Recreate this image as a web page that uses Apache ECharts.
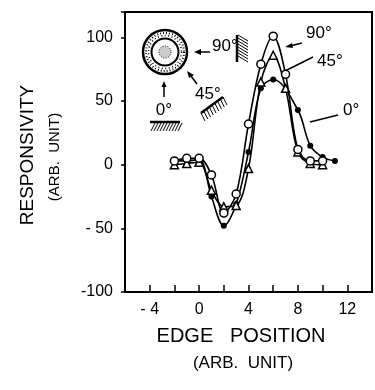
<!DOCTYPE html>
<html>
<head>
<meta charset="utf-8">
<script src="https://cdn.jsdelivr.net/npm/echarts@6.0.0/dist/echarts.min.js"></script>
<style>
  html, body { margin: 0; padding: 0; background: #fff; }
  #chart { width: 375px; height: 390px; }
</style>
</head>
<body>
<div id="chart"></div>
<script>
// edge position (arb. unit) for each curve
const pos90 = [-2, -1, 0, 1, 2, 3, 4, 5, 6, 7, 8, 9, 10];
const pos45 = [-2, -1, 0, 1, 2, 3, 4, 5, 6, 7, 8, 9, 10];
const pos0 = [-2, -1, 0, 1, 2, 3, 4, 5, 6, 8, 9, 10, 11];

// responsivity (arb. unit)
const resp90 = [3, 5, 5, -8, -38, -23, 32, 79, 101, 71, 12, 3, 3];
const resp45 = [0, 1, 2, -20, -33, -32, -3, 65, 86, 60, 10, 1, 0];
const resp0 = [3, 3, 4, -25, -48, -31, 10, 60, 67, 43, 15, 6, 3];

const xTickLabels = { "-4": "- 4", "0": "0", "4": "4", "8": "8", "12": "12" };
const yTickLabels = { "-100": "-100", "-50": "- 50", "0": "0", "50": "50", "100": "100" };

const FONT = "Liberation Sans";

const pairs = (xs, ys) => xs.map((x, i) => [x, ys[i]]);

const chart = echarts.init(document.getElementById("chart"));

// small helpers for the inset sketch
const seg = (x1, y1, x2, y2, w) => ({
  type: "line",
  shape: { x1, y1, x2, y2 },
  style: { stroke: "#000", lineWidth: w || 1.5 },
});
const head = (pts) => ({
  type: "polygon",
  shape: { points: pts },
  style: { fill: "#000" },
});
const txt = (x, y, s, size, align) => ({
  type: "text",
  x,
  y,
  style: {
    text: s,
    fontFamily: FONT,
    fontSize: size || 17,
    fill: "#000",
    align: align || "left",
    verticalAlign: "middle",
  },
});

const hatch = [];
// 90 deg wall
hatch.push(seg(237, 35, 237, 62, 2.5));
for (let y = 35; y <= 56; y += 3) hatch.push(seg(238, y, 248, y + 6, 1));
// 0 deg floor
hatch.push(seg(150, 122, 180, 122, 2.5));
for (let x = 151; x <= 178; x += 3) hatch.push(seg(x + 4, 123, x, 131, 1));
// 45 deg slope
hatch.push(seg(201, 113, 223, 97, 2.5));
for (let t = 0; t <= 1.001; t += 0.125) {
  const px = 201 + 22 * t, py = 113 - 16 * t;
  hatch.push(seg(px, py, px + 4, py + 8, 1));
}

const option = {
  animation: false,
  grid: {
    left: 125,
    right: -4,
    top: 12,
    bottom: 98,
    show: true,
    borderColor: "#000",
    borderWidth: 2,
  },
  xAxis: {
    type: "value",
    min: -6,
    max: 14,
    interval: 2,
    splitLine: { show: false },
    axisLine: { onZero: false, lineStyle: { color: "#000", width: 2 } },
    axisTick: { inside: true, length: 7, lineStyle: { color: "#000", width: 1.5 } },
    axisLabel: {
      margin: 10,
      color: "#000",
      fontFamily: FONT,
      fontSize: 16,
      formatter: (v) => xTickLabels[String(v)] || "",
    },
  },
  yAxis: {
    type: "value",
    min: -100,
    max: 120,
    interval: 50,
    splitLine: { show: false },
    axisLine: { onZero: false, lineStyle: { color: "#000", width: 2 } },
    axisTick: { length: 4, lineStyle: { color: "#000", width: 1.5 } },
    axisLabel: {
      margin: 12,
      color: "#000",
      fontFamily: FONT,
      fontSize: 16,
      formatter: (v) => yTickLabels[String(v)] || "",
    },
  },
  series: [
    {
      name: "0°",
      type: "line",
      data: pairs(pos0, resp0),
      smooth: 0.35,
      symbol: "circle",
      symbolSize: 6,
      itemStyle: { color: "#000" },
      lineStyle: { color: "#000", width: 1.6 },
      z: 2,
    },
    {
      name: "45°",
      type: "line",
      data: pairs(pos45, resp45),
      smooth: 0.35,
      symbol: "triangle",
      symbolSize: 8,
      showAllSymbol: true,
      itemStyle: { color: "#fff", borderColor: "#000", borderWidth: 1.5 },
      lineStyle: { color: "#000", width: 1.6 },
      z: 3,
    },
    {
      name: "90°",
      type: "line",
      data: pairs(pos90, resp90),
      smooth: 0.35,
      symbol: "circle",
      symbolSize: 8,
      showAllSymbol: true,
      itemStyle: { color: "#fff", borderColor: "#000", borderWidth: 1.5 },
      lineStyle: { color: "#000", width: 1.6 },
      z: 4,
    },
  ],
  graphic: [
    // axis titles
    {
      type: "text",
      x: 28,
      y: 155,
      rotation: Math.PI / 2,
      style: {
        text: "RESPONSIVITY",
        fontFamily: FONT,
        fontSize: 19,
        fill: "#000",
        align: "center",
        verticalAlign: "middle",
      },
    },
    {
      type: "text",
      x: 55,
      y: 157,
      rotation: Math.PI / 2,
      style: {
        text: "(ARB.  UNIT)",
        fontFamily: FONT,
        fontSize: 15,
        fill: "#000",
        align: "center",
        verticalAlign: "middle",
      },
    },
    txt(241, 336, "EDGE   POSITION", 20, "center"),
    txt(243, 363, "(ARB.  UNIT)", 17, "center"),

    // curve labels with leaders
    txt(306, 33, "90°"),
    seg(302, 43, 290, 46),
    head([[285, 47], [292, 43], [293, 48]]),
    txt(317, 61, "45°"),
    seg(313, 57, 283, 72),
    txt(343, 110, "0°"),
    seg(338, 115, 310, 122),

    // inset: sensor sketch
    { type: "circle", shape: { cx: 165, cy: 52, r: 22 }, style: { fill: "#fff", stroke: "#000", lineWidth: 2.5 } },
    { type: "circle", shape: { cx: 165, cy: 52, r: 19 }, style: { fill: "none", stroke: "#000", lineWidth: 2, lineDash: [1, 2] } },
    { type: "circle", shape: { cx: 165, cy: 52, r: 16.5 }, style: { fill: "none", stroke: "#000", lineWidth: 1.5, lineDash: [1, 2.5] } },
    { type: "circle", shape: { cx: 165, cy: 52, r: 13.5 }, style: { fill: "#fff", stroke: "#000", lineWidth: 2 } },
    { type: "circle", shape: { cx: 165, cy: 52, r: 6 }, style: { fill: "#ccc", stroke: "#000", lineWidth: 1, lineDash: [1, 1.5] } },

    txt(212, 46, "90°"),
    seg(200, 52, 210, 52),
    head([[194, 52], [201, 49], [201, 55]]),
    txt(195, 94, "45°"),
    seg(197, 84, 191, 76),
    head([[187, 71], [194, 75], [189, 78]]),
    txt(164, 110, "0°", 17, "center"),
    seg(164, 97, 164, 86),
    head([[164, 81], [161.5, 87], [166.5, 87]]),
  ].concat(hatch),
};

chart.setOption(option);
</script>
</body>
</html>
